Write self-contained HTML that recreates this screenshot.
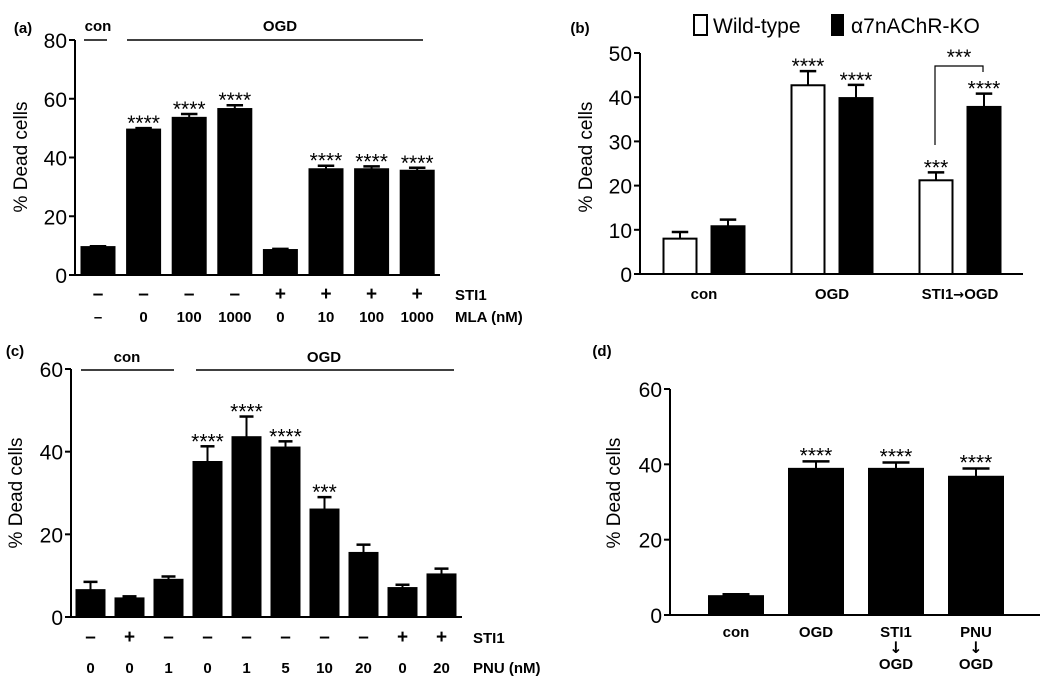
<!DOCTYPE html>
<html><head><meta charset="utf-8"><style>
body{margin:0;background:#fff}
svg{display:block;font-family:"Liberation Sans",Arial,sans-serif}
.t{font-size:21px}
.b{font-weight:bold;font-size:15px}
.s{font-size:21px}
.ar{font-family:"DejaVu Sans",sans-serif;font-weight:bold}
</style></head><body>
<svg id="fig" width="1050" height="688" viewBox="0 0 1050 688" xmlns="http://www.w3.org/2000/svg"></svg>
<script>
// Panel a
const aVals=[9.5,49.5,53.5,56.5,8.5,36,36,35.5];
const aErr=[0.3,0.5,1.3,1.3,0.4,1.2,1.0,1.0];
const aStars=["","****","****","****","","****","****","****"];
const aSTI=["–","–","–","–","+","+","+","+"];
const aMLA=["–","0","100","1000","0","10","100","1000"];
const aTicks=[0,20,40,60,80];
// Panel b
const bCats=["con","OGD","STI1→OGD"];
const bWT=[8,42.7,21.2];
const bWTErr=[1.5,3.2,1.8];
const bKO=[10.8,39.8,37.8];
const bKOErr=[1.5,3,3];
const bWTStars=["","****","***"];
const bKOStars=["","****","****"];
const bTicks=[0,10,20,30,40,50];
// Panel c
const cVals=[6.5,4.5,9,37.5,43.5,41,26,15.5,7,10.3];
const cErr=[2,0.5,0.8,3.8,5,1.5,3,2,0.8,1.4];
const cStars=["","","","****","****","****","***","","",""];
const cSTI=["–","+","–","–","–","–","–","–","+","+"];
const cPNU=["0","0","1","0","1","5","10","20","0","20"];
const cTicks=[0,20,40,60];
// Panel d
const dCats=[["con"],["OGD"],["STI1","↓","OGD"],["PNU","↓","OGD"]];
const dVals=[5,38.8,38.8,36.7];
const dErr=[0.5,2,1.7,2.2];
const dStars=["","****","****","****"];
const dTicks=[0,20,40,60];

const svg=document.getElementById('fig');
const NS="http://www.w3.org/2000/svg";
function el(tag,attrs,text){const e=document.createElementNS(NS,tag);for(const k in attrs)e.setAttribute(k,attrs[k]);if(text!==undefined)e.textContent=text;svg.appendChild(e);return e;}
function txt(x,y,s,cls,anchor,name){const e=el('text',{x:x,y:y,class:cls,'text-anchor':anchor||'middle'},s);


return e;}
function line(x1,y1,x2,y2,w,name){const e=el('line',{x1:x1,y1:y1,x2:x2,y2:y2,stroke:'#000','stroke-width':w||2});


return e;}
function axes(ax,x1,y0,ytop,max,ticks,titleX,titleY,p){
  const Y=v=>y0-(y0-ytop)*v/max;
  line(ax,y0,ax,Y(max),2,p+'-y-axis');
  line(ax-1,y0,x1,y0,2,p+'-x-axis');
  ticks.forEach(t=>{line(ax-6,Y(t),ax,Y(t),2,p+'-y-tick');
    txt(ax-8,Y(t)+8,String(t),'t','end',p+'-y-tick-label');});
  const tt=txt(titleX,titleY,'% Dead cells','t','middle',p+'-y-axis-title');
  tt.setAttribute('transform','rotate(-90 '+titleX+' '+titleY+')');
  tt.setAttribute('style','font-size:19px');
  return Y;
}
function bar(cx,w,v,err,Y,fill,name){
  line(cx,Y(v),cx,Y(v+err),2,name+'-error');
  line(cx-w*0.25,Y(v+err),cx+w*0.25,Y(v+err),2.5,name+'-error-cap');
  const r=el('rect',{x:cx-w/2,y:Y(v),width:w,height:Y(0)-Y(v),fill:fill,stroke:'#000','stroke-width':2});
  
  
}
function stars(cx,y,s,name){return txt(cx,y+6,s,'s','middle',name);}
// ---- Panel a
(function(){
  const Y=axes(75,440,275,40,80,aTicks,27,157,'a');
  txt(23,33,'(a)','b','middle','a-panel-label');
  aVals.forEach((v,i)=>{const cx=98+i*45.6;bar(cx,33,v,aErr[i],Y,'#000','a-bar');
    if(aStars[i])stars(cx,Y(v+aErr[i])-4,aStars[i],'a-significance');
    txt(cx,300,aSTI[i],'b','middle','a-sti1-label').setAttribute('style','font-size:19px');
    txt(cx,322,aMLA[i],'b','middle','a-mla-label');});
  txt(455,300,'STI1','b','start','a-sti1-row-title');
  txt(455,322,'MLA (nM)','b','start','a-mla-row-title');
  line(84,40,107,40,1.5,'a-con-bracket');txt(98,31,'con','b','middle','a-con-label');
  line(127,40,423,40,1.5,'a-ogd-bracket');txt(280,31,'OGD','b','middle','a-ogd-label');
})();
// ---- Panel b
(function(){
  const Y=axes(640,1023,274,53,50,bTicks,592,157,'b');
  txt(580,33,'(b)','b','middle','b-panel-label');
  const r1=el('rect',{x:694,y:15,width:13,height:20,fill:'#fff',stroke:'#000','stroke-width':2});
  
  txt(713,33,'Wild-type','t','start','legend-wildtype');
  const r2=el('rect',{x:831,y:14,width:13,height:22,fill:'#000'});
  
  txt(851,33,'α7nAChR-KO','t','start','legend-ko');
  bCats.forEach((c,i)=>{const gc=704+i*128;
    bar(gc-24,33,bWT[i],bWTErr[i],Y,'#fff','b-bar-wildtype');
    bar(gc+24,33,bKO[i],bKOErr[i],Y,'#000','b-bar-ko');
    if(bWTStars[i])stars(gc-24,Y(bWT[i]+bWTErr[i])-4,bWTStars[i],'b-significance');
    if(bKOStars[i])stars(gc+24,Y(bKO[i]+bKOErr[i])-4,bKOStars[i],'b-significance');
    const t=txt(gc,299,'','b','middle','b-category-label');
    c.split('→').forEach((part,k)=>{if(k>0){const a=document.createElementNS(NS,'tspan');a.setAttribute('class','ar');a.setAttribute('style','font-size:13px');a.textContent='→';t.appendChild(a);}
      const s=document.createElementNS(NS,'tspan');s.textContent=part;t.appendChild(s);});
  });
  const p=el('polyline',{points:'935,145 935,66 983,66 983,72',fill:'none',stroke:'#000','stroke-width':1.2});
  
  stars(959,58,'***','b-bracket-significance');
})();
// ---- Panel c
(function(){
  const Y=axes(71,462,617,369,60,cTicks,22,493,'c');
  txt(15,356,'(c)','b','middle','c-panel-label');
  cVals.forEach((v,i)=>{const cx=90.5+i*39;bar(cx,28,v,cErr[i],Y,'#000','c-bar');
    if(cStars[i])stars(cx,Y(v+cErr[i])-4,cStars[i],'c-significance');
    txt(cx,643,cSTI[i],'b','middle','c-sti1-label').setAttribute('style','font-size:19px');
    txt(cx,673,cPNU[i],'b','middle','c-pnu-label');});
  txt(473,643,'STI1','b','start','c-sti1-row-title');
  txt(473,673,'PNU (nM)','b','start','c-pnu-row-title');
  line(81,370,174,370,1.5,'c-con-bracket');txt(127,362,'con','b','middle','c-con-label');
  line(196,370,454,370,1.5,'c-ogd-bracket');txt(324,362,'OGD','b','middle','c-ogd-label');
})();
// ---- Panel d
(function(){
  const Y=axes(670,1040,615,389,60,dTicks,620,493,'d');
  txt(602,356,'(d)','b','middle','d-panel-label');
  dVals.forEach((v,i)=>{const cx=736+i*80;bar(cx,54,v,dErr[i],Y,'#000','d-bar');
    if(dStars[i])stars(cx,Y(v+dErr[i])-5,dStars[i],'d-significance');
    dCats[i].forEach((s,j)=>{const t=txt(cx,637+j*16,s,j===1?'b ar':'b','middle','d-category-label');
      if(j===1)t.setAttribute('style','font-size:16px');});});
})();
</script>
</body></html>
